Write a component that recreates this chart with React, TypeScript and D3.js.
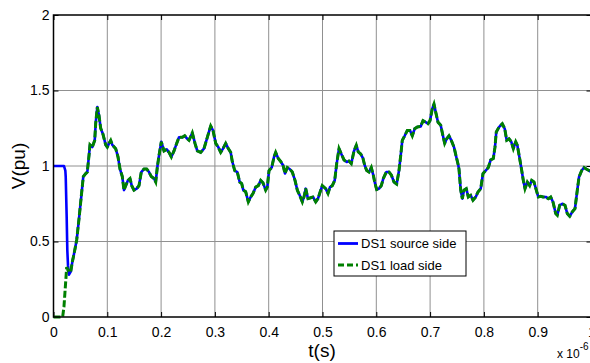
import React, { useEffect, useRef } from 'react';
import * as d3 from 'd3';

// time in units of 1e-6 s, voltage in pu
const sourceStartT = [0, 0.0195, 0.022, 0.0227, 0.0245, 0.0257, 0.027, 0.0288];
const sourceStartV = [1.0, 1.0, 0.97, 0.93, 0.66, 0.44, 0.34, 0.28];

const loadStartT = [0, 0.017, 0.0195, 0.0245, 0.028];
const loadStartV = [0, 0, 0.07, 0.33, 0.3];

const waveT = [
  0.032, 0.035, 0.0394, 0.0431, 0.0474, 0.0554, 0.0599, 0.0628, 0.066, 0.0678,
  0.0721, 0.0766, 0.0784, 0.0814, 0.0846, 0.0877, 0.092, 0.097, 0.1, 0.1032,
  0.1063, 0.1093, 0.1156, 0.1199, 0.1236, 0.1279, 0.131, 0.1342, 0.1385, 0.1422,
  0.1454, 0.1496, 0.1546, 0.1589, 0.1632, 0.1682, 0.1732, 0.1775, 0.1818, 0.1868,
  0.19, 0.1929, 0.1961, 0.2004, 0.2054, 0.2104, 0.2147, 0.219, 0.224, 0.229,
  0.2333, 0.2394, 0.2439, 0.2487, 0.2519, 0.258, 0.263, 0.2673, 0.2736, 0.2797,
  0.2859, 0.2922, 0.2965, 0.3015, 0.3063, 0.3108, 0.3151, 0.3201, 0.3249, 0.3294,
  0.3323, 0.3368, 0.3416, 0.3461, 0.3498, 0.3528, 0.3572, 0.3621, 0.3665, 0.3708,
  0.3758, 0.3807, 0.3851, 0.3894, 0.3944, 0.3974, 0.4006, 0.4056, 0.4099, 0.413,
  0.4178, 0.4223, 0.4266, 0.4303, 0.4346, 0.439, 0.4439, 0.4489, 0.4532, 0.4576,
  0.4625, 0.4656, 0.4688, 0.473, 0.4781, 0.4823, 0.4874, 0.4916, 0.4967, 0.4996,
  0.5059, 0.5102, 0.5139, 0.5182, 0.5227, 0.5264, 0.5307, 0.535, 0.54, 0.545,
  0.5493, 0.5535, 0.5586, 0.5628, 0.5665, 0.571, 0.5753, 0.5784, 0.5822, 0.5864,
  0.5907, 0.5944, 0.597, 0.6007, 0.605, 0.6093, 0.613, 0.6186, 0.6236, 0.6279,
  0.6329, 0.6379, 0.6422, 0.6454, 0.6483, 0.6528, 0.6576, 0.6626, 0.6669, 0.6714,
  0.6762, 0.6825, 0.6868, 0.6918, 0.6961, 0.6998, 0.7041, 0.7072, 0.7104, 0.7147,
  0.7197, 0.7245, 0.7271, 0.7309, 0.7351, 0.7394, 0.7444, 0.7487, 0.7524, 0.7537,
  0.7569, 0.7599, 0.763, 0.7673, 0.771, 0.7755, 0.7797, 0.7848, 0.789, 0.7941,
  0.7983, 0.8033, 0.8082, 0.8126, 0.8175, 0.8206, 0.823, 0.8281, 0.8342, 0.8387,
  0.8424, 0.8467, 0.8509, 0.8547, 0.8591, 0.8621, 0.8665, 0.8703, 0.8732, 0.8764,
  0.8807, 0.8851, 0.8888, 0.8931, 0.8974, 0.9011, 0.9056, 0.9099, 0.9149, 0.9197,
  0.9242, 0.9284, 0.9335, 0.9364, 0.9409, 0.9457, 0.9507, 0.955, 0.9595, 0.9643,
  0.9693, 0.9736, 0.9768, 0.9818, 0.9861, 0.9903, 0.9954, 1.0,
];
const waveV = [
  0.30, 0.365, 0.44, 0.51, 0.65, 0.93, 0.95, 0.96, 1.07, 1.14,
  1.125, 1.17, 1.28, 1.39, 1.335, 1.25, 1.21, 1.14, 1.125, 1.15,
  1.17, 1.14, 1.115, 1.06, 0.98, 0.93, 0.84, 0.87, 0.905, 0.917,
  0.87, 0.84, 0.85, 0.87, 0.96, 0.98, 0.98, 0.96, 0.93, 0.917,
  0.894, 0.99, 1.07, 1.16, 1.10, 1.11, 1.09, 1.06, 1.10, 1.15,
  1.19, 1.19, 1.20, 1.18, 1.17, 1.22, 1.15, 1.10, 1.09, 1.115,
  1.19, 1.265, 1.235, 1.15, 1.125, 1.09, 1.115, 1.15, 1.115, 1.09,
  1.03, 0.97, 0.96, 0.894, 0.884, 0.84, 0.83, 0.762, 0.795, 0.818,
  0.86, 0.87, 0.905, 0.888, 0.84, 0.86, 0.97, 0.99, 1.06, 1.09,
  1.05, 1.03, 1.005, 0.95, 0.99, 0.98, 0.96, 0.905, 0.84, 0.806,
  0.762, 0.795, 0.85, 0.784, 0.79, 0.795, 0.762, 0.784, 0.84, 0.87,
  0.85, 0.818, 0.86, 0.87, 0.905, 1.016, 1.115, 1.08, 1.04, 1.027,
  1.033, 1.016, 1.10, 1.137, 1.093, 1.08, 1.05, 1.005, 0.97, 0.96,
  0.99, 0.94, 0.894, 0.844, 0.85, 0.87, 0.917, 0.96, 0.96, 0.94,
  0.894, 0.88, 0.97, 1.07, 1.17, 1.20, 1.235, 1.235, 1.20, 1.247,
  1.258, 1.262, 1.30, 1.29, 1.28, 1.30, 1.38, 1.41, 1.357, 1.29,
  1.27, 1.19, 1.15, 1.18, 1.20, 1.17, 1.125, 1.06, 1.005, 0.98,
  0.84, 0.784, 0.84, 0.85, 0.795, 0.806, 0.773, 0.795, 0.828, 0.85,
  0.95, 0.97, 0.99, 1.04, 1.05, 1.125, 1.225, 1.258, 1.28, 1.247,
  1.17, 1.18, 1.16, 1.115, 1.16, 1.137, 1.05, 0.97, 0.905, 0.85,
  0.894, 0.87, 0.905, 0.894, 0.84, 0.795, 0.80, 0.795, 0.795, 0.784,
  0.795, 0.762, 0.685, 0.674, 0.74, 0.75, 0.74, 0.685, 0.667, 0.696,
  0.718, 0.84, 0.927, 0.97, 0.99, 0.98, 0.97, 0.96,
];

const xTicks = [0, 0.1, 0.2, 0.3, 0.4, 0.5, 0.6, 0.7, 0.8, 0.9, 1];
const yTicks = [0, 0.5, 1, 1.5, 2];
const seriesNames = ['DS1 source side', 'DS1 load side'];

const W = 590;
const H = 363;

const App = () => {
  const svgRef = useRef<SVGSVGElement>(null);

  useEffect(() => {
    const margin = { top: 15, right: -1.5, bottom: 46, left: 53.5 };
    const width = W - margin.left - margin.right;
    const height = H - margin.top - margin.bottom;

    const root = d3.select(svgRef.current);
    root.selectAll('*').remove();
    const svg = root.append('g').attr('transform', `translate(${margin.left},${margin.top})`);

    const x = d3.scaleLinear().domain([0, 1]).range([0, width]);
    const y = d3.scaleLinear().domain([0, 2]).range([height, 0]);

    svg.append('rect').attr('width', width).attr('height', height).attr('fill', '#fff');

    // grid
    svg.append('g')
      .selectAll('line')
      .data(xTicks.slice(1, -1))
      .enter()
      .append('line')
      .attr('x1', d => x(d)).attr('x2', d => x(d))
      .attr('y1', 0).attr('y2', height)
      .attr('stroke', '#909090').attr('stroke-width', 1);
    svg.append('g')
      .selectAll('line')
      .data(yTicks.slice(1, -1))
      .enter()
      .append('line')
      .attr('x1', 0).attr('x2', width)
      .attr('y1', d => y(d)).attr('y2', d => y(d))
      .attr('stroke', '#909090').attr('stroke-width', 1);

    const font = 'Arial, "Liberation Sans", Helvetica, sans-serif';

    // axes
    svg.append('g')
      .attr('transform', `translate(0,${height})`)
      .call(d3.axisBottom(x).tickValues(xTicks).tickSize(-5).tickPadding(10).tickFormat(d3.format('')))
      .call(g => g.select('.domain').remove())
      .call(g => g.selectAll('text').attr('font-size', 14).attr('font-family', font).attr('fill', '#000'));
    svg.append('g')
      .call(d3.axisTop(x).tickValues(xTicks).tickSize(-5).tickFormat(() => ''))
      .call(g => g.select('.domain').remove());
    svg.append('g')
      .call(d3.axisLeft(y).tickValues(yTicks).tickSize(-5).tickPadding(4).tickFormat(d3.format('')))
      .call(g => g.select('.domain').remove())
      .call(g => g.selectAll('text').attr('font-size', 14).attr('font-family', font).attr('fill', '#000'));
    svg.append('g')
      .attr('transform', `translate(${width},0)`)
      .call(d3.axisRight(y).tickValues(yTicks).tickSize(-5).tickFormat(() => ''))
      .call(g => g.select('.domain').remove());

    // lines
    const line = d3.line<[number, number]>()
      .x(d => x(d[0]))
      .y(d => y(d[1]));

    const wave = waveT.map((t, i) => [t, waveV[i]] as [number, number]);
    const source = sourceStartT.map((t, i) => [t, sourceStartV[i]] as [number, number]).concat(wave);
    const load = loadStartT.map((t, i) => [t, loadStartV[i]] as [number, number]).concat(wave);

    const plot = svg.append('g');
    plot.append('path')
      .datum(source)
      .attr('d', line)
      .attr('fill', 'none')
      .attr('stroke', '#0000ff')
      .attr('stroke-width', 2.6)
      .attr('stroke-linejoin', 'round');
    plot.append('path')
      .datum(load)
      .attr('d', line)
      .attr('fill', 'none')
      .attr('stroke', '#008000')
      .attr('stroke-width', 3)
      .attr('stroke-dasharray', '7,2.5');

    // frame
    svg.append('rect')
      .attr('width', width).attr('height', height)
      .attr('fill', 'none').attr('stroke', '#000').attr('stroke-width', 1.5);

    // axis labels
    root.append('text')
      .attr('x', 322).attr('y', 357)
      .attr('text-anchor', 'middle')
      .attr('font-family', font).attr('font-size', 19)
      .text('t(s)');
    root.append('text')
      .attr('transform', 'translate(25,166) rotate(-90)')
      .attr('text-anchor', 'middle')
      .attr('font-family', font).attr('font-size', 19)
      .text('V(pu)');
    const exp = root.append('text')
      .attr('x', 557).attr('y', 358)
      .attr('font-family', font).attr('font-size', 12);
    exp.append('tspan').text('x 10');
    exp.append('tspan').attr('dy', -8).attr('font-size', 10).text('-6');

    // legend
    const lg = root.append('g').attr('transform', 'translate(334,231)');
    lg.append('rect')
      .attr('width', 132).attr('height', 45)
      .attr('fill', '#fff').attr('stroke', '#000').attr('stroke-width', 1);
    const styles = [
      { color: '#0000ff', dash: null },
      { color: '#008000', dash: '6,3' },
    ];
    seriesNames.forEach((name, i) => {
      const yy = 12.5 + i * 21.5;
      lg.append('line')
        .attr('x1', 4).attr('x2', 24)
        .attr('y1', yy).attr('y2', yy)
        .attr('stroke', styles[i].color)
        .attr('stroke-width', 2.8)
        .attr('stroke-dasharray', styles[i].dash);
      lg.append('text')
        .attr('x', 27).attr('y', yy + 4.5)
        .attr('font-family', font).attr('font-size', 13)
        .text(name);
    });
  }, []);

  return (
    <svg
      ref={svgRef}
      width={W}
      height={H}
      style={{ position: 'absolute', left: 0, top: 0, background: '#fff' }}
    />
  );
};

export default App;
